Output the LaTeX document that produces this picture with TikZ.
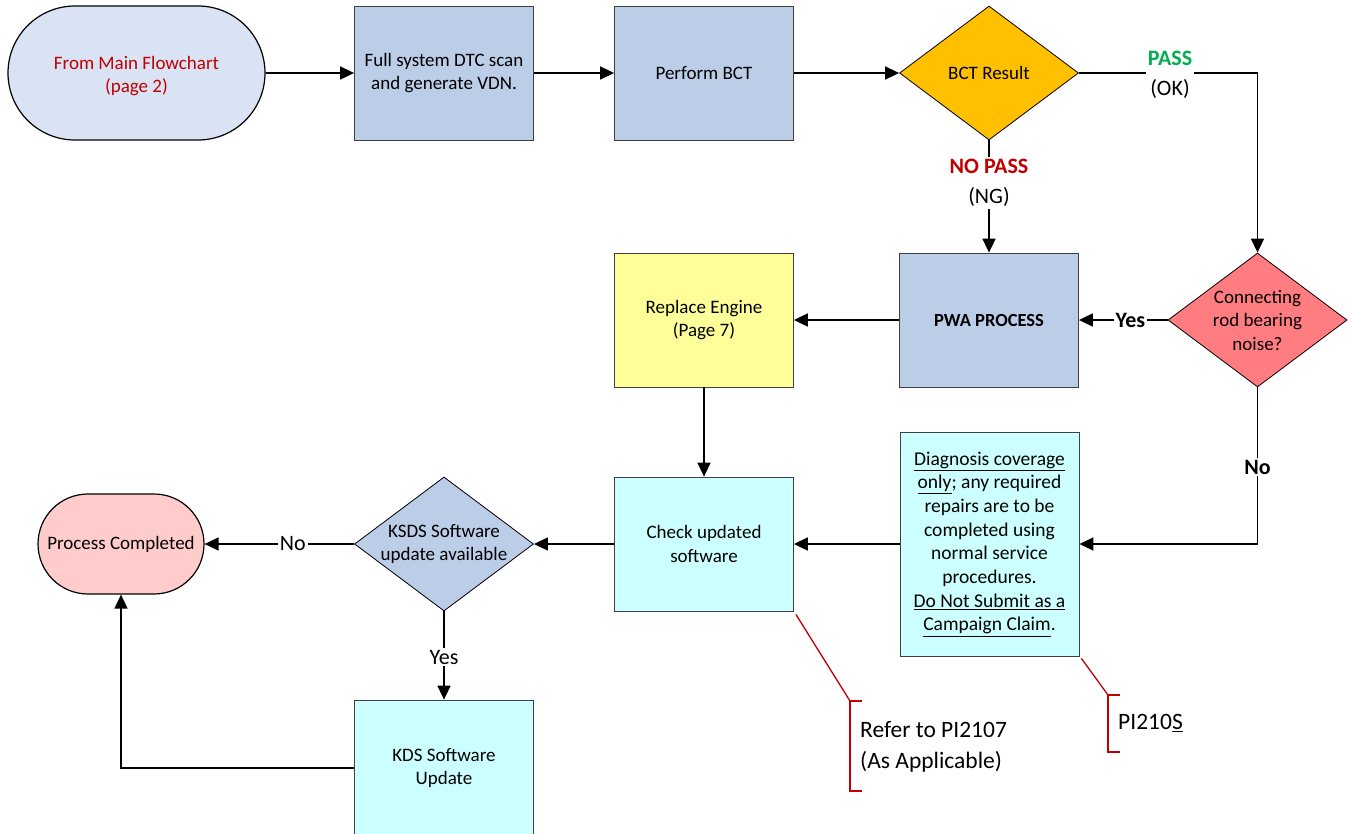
\documentclass[tikz,border=0pt]{standalone}
\usepackage{fontspec}
\setmainfont{Carlito}
\usetikzlibrary{shapes.geometric,shapes.misc,arrows.meta}
\definecolor{termblue}{RGB}{218,227,243}
\definecolor{boxblue}{RGB}{188,206,231}
\definecolor{bctorange}{RGB}{255,192,0}
\definecolor{connred}{RGB}{255,124,128}
\definecolor{yelbox}{RGB}{255,255,153}
\definecolor{cyanbox}{RGB}{204,255,255}
\definecolor{pinkbox}{RGB}{255,204,204}
\definecolor{darkred}{RGB}{192,0,0}
\definecolor{passgreen}{RGB}{0,176,80}
\begin{document}
\begin{tikzpicture}[x=1pt,y=-1pt,
 txt/.style={font=\fontsize{19}{23.5}\selectfont, align=center},
 procbox/.style={txt, rectangle, draw=black!75, line width=0.8pt, minimum width=179pt, minimum height=134pt, inner sep=0pt},
 decis/.style={diamond, draw=black, line width=0.8pt, minimum width=179pt, minimum height=134pt, inner sep=0pt, label={[txt, inner sep=0pt]center:#1}},
 term/.style={txt, rounded rectangle, draw=black, line width=1.2pt, inner sep=0pt},
 flow/.style={line width=1.6pt, -{Triangle[length=14pt,width=13pt]}},
 lbl/.style={fill=white, inner sep=2pt, font=\fontsize{22}{30}\selectfont, align=center},
 blbl/.style={lbl, font=\fontsize{22}{30}\selectfont\bfseries},
 callout/.style={draw=darkred, line width=1.3pt},
 calltxt/.style={anchor=west, align=left, inner sep=0pt, font=\fontsize{23.5}{31}\selectfont}
]
\useasboundingbox (0,0) rectangle (1349,833);

% nodes
\node[term, fill=termblue, minimum width=257pt, minimum height=134pt, label={[txt, text=darkred, inner sep=0pt, yshift=-3pt]center:From Main Flowchart\\(page 2)}] (start) at (136.5,73) {};
\node[procbox, fill=boxblue] (scan) at (444,73) {Full system DTC scan\\and generate VDN.};
\node[procbox, fill=boxblue] (bct) at (704,73) {Perform BCT};
\node[decis={BCT Result}, fill=bctorange] (bctr) at (989,73) {};
\node[decis={Connecting\\rod bearing\\noise?}, fill=connred] (conn) at (1257.5,320) {};
\node[procbox, fill=boxblue, font=\fontsize{18.5}{23}\selectfont\bfseries] (pwa) at (989,320) {PWA PROCESS};
\node[procbox, fill=yelbox] (repl) at (704,320) {Replace Engine\\(Page 7)};
\node[procbox, fill=cyanbox] (check) at (704,544) {Check updated\\software};
\node[procbox, fill=cyanbox, minimum height=224pt, font=\fontsize{19.5}{23.7}\selectfont] (diag) at (989.5,544) {\underline{Diagnosis coverage}\\\underline{only}; any required\\repairs are to be\\completed using\\normal service\\procedures.\\\underline{Do Not Submit as a}\\\underline{Campaign Claim}.};
\node[decis={KSDS Software\\update available}, fill=boxblue] (ksds) at (444,544) {};
\node[term, fill=pinkbox, minimum width=166pt, minimum height=100pt] (done) at (121,544) {Process Completed};
\node[procbox, fill=cyanbox, minimum height=136pt] (kds) at (444,768) {KDS Software\\Update};

% connectors
\draw[flow] (start) -- (scan);
\draw[flow] (scan) -- (bct);
\draw[flow] (bct) -- (bctr);
\draw[flow] (bctr.east) -- node[lbl, pos=0.51, yshift=-1.5pt] (passlbl) {\textcolor{passgreen}{\textbf{PASS}}\\(OK)} (conn.north |- bctr.east) -- (conn.north);
\draw[flow] (bctr.south) -- node[lbl, pos=0.38] (nglbl) {\textcolor{darkred}{\textbf{NO PASS}}\\(NG)} (pwa.north);
\draw[flow] (conn.west) -- node[blbl, pos=0.42] (yes1) {Yes} (pwa.east);
\draw[flow] (pwa) -- (repl);
\draw[flow] (repl) -- (check);
\draw[flow] (conn.south) -- node[blbl, pos=0.51] (no1) {No} (conn.south |- diag.east) -- (diag.east);
\draw[flow] (diag) -- (check);
\draw[flow] (check) -- (ksds);
\draw[flow] (ksds.west) -- node[lbl, pos=0.41] (no2) {No} (done.east);
\draw[flow] (ksds.south) -- node[lbl, pos=0.52] (yes2) {Yes} (kds.north);
\draw[flow] (kds.west) -- (done.south |- kds.west) -- (done.south);

% callouts
\coordinate (c1) at (850,701);
\coordinate (c1b) at (850,791);
\draw[callout] ([shift={(2,3)}]check.south east) -- (c1);
\draw[callout] ([xshift=12pt]c1) -- (c1) -- (c1b) -- ([xshift=12pt]c1b);
\node[calltxt] (ref1) at (860,747) {Refer to PI2107\\(As Applicable)};

\coordinate (c2) at (1108,695);
\coordinate (c2b) at (1108,752);
\draw[callout] ([shift={(2,2)}]diag.south east) -- (c2);
\draw[callout] ([xshift=12pt]c2) -- (c2) -- (c2b) -- ([xshift=12pt]c2b);
\node[calltxt] (ref2) at (1118,723) {PI210\underline{S}};
\end{tikzpicture}
\end{document}
